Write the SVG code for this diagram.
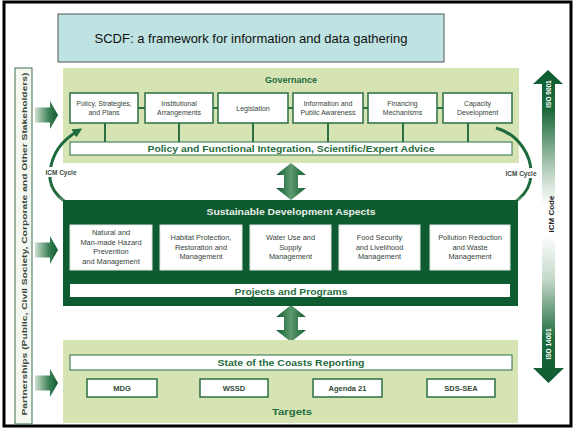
<svg xmlns="http://www.w3.org/2000/svg" width="574" height="429" viewBox="0 0 574 429">
<defs>
<style>
.panel{fill:#d6e4b4}
.dark{fill:#0f5b31}
.box{fill:#fff;stroke:#2d6e42;stroke-width:1.5}
.sbox{fill:#fff;stroke:#dfe8df;stroke-width:1}
.bar{fill:#fff;stroke:#2d6e42;stroke-width:1}
.lnk{stroke:#2d6e42;stroke-width:2;fill:none}
.slnk{stroke:#c9d9c9;stroke-width:2;fill:none}
.t{font-family:"Liberation Sans",Arial,sans-serif;font-size:7px;fill:#34443a;text-anchor:middle}
.st{font-family:"Liberation Sans",Arial,sans-serif;font-size:7.4px;fill:#34443a;text-anchor:middle}
.h{font-family:"Liberation Sans",Arial,sans-serif;font-weight:bold;font-size:9px;fill:#1f6b3c;text-anchor:middle}
.tg{font-family:"Liberation Sans",Arial,sans-serif;font-weight:bold;font-size:7.5px;fill:#2f4a37;text-anchor:middle}
.lbl{font-family:"Liberation Sans",Arial,sans-serif;font-weight:bold;font-size:6.5px;fill:#3b4a3f;text-anchor:middle}
</style>
<linearGradient id="dbl" x1="0" y1="0" x2="1" y2="0">
<stop offset="0" stop-color="#0f5b31"/><stop offset="0.5" stop-color="#5e9a6e"/><stop offset="1" stop-color="#0f5b31"/>
</linearGradient>
<linearGradient id="lar" x1="0" y1="0" x2="1" y2="0">
<stop offset="0" stop-color="#cfe0d2"/><stop offset="0.6" stop-color="#3c8256"/><stop offset="1" stop-color="#0f5b31"/>
</linearGradient>
<linearGradient id="up" gradientUnits="userSpaceOnUse" x1="0" y1="70" x2="0" y2="205">
<stop offset="0" stop-color="#0f5b31"/><stop offset="0.3" stop-color="#1d6a3c"/><stop offset="0.75" stop-color="#b9d1bf"/><stop offset="1" stop-color="#ffffff"/>
</linearGradient>
<linearGradient id="down" gradientUnits="userSpaceOnUse" x1="0" y1="235" x2="0" y2="383">
<stop offset="0" stop-color="#ffffff"/><stop offset="0.3" stop-color="#c4d8c9"/><stop offset="0.7" stop-color="#1d6a3c"/><stop offset="1" stop-color="#0f5b31"/>
</linearGradient>
<linearGradient id="arcR" gradientUnits="userSpaceOnUse" x1="0" y1="195" x2="0" y2="214">
<stop offset="0" stop-color="#1d6a3c"/><stop offset="1" stop-color="#f0f4f0"/>
</linearGradient>
<linearGradient id="arcL" gradientUnits="userSpaceOnUse" x1="0" y1="214" x2="0" y2="195">
<stop offset="0" stop-color="#e8efe8"/><stop offset="1" stop-color="#1d6a3c"/>
</linearGradient>
<marker id="mG" viewBox="0 0 10 10" refX="5" refY="5" markerWidth="3.2" markerHeight="3.2" orient="auto" markerUnits="strokeWidth">
<path d="M0,0 L10,5 L0,10 z" fill="#1d6a3c"/>
</marker>
<marker id="mW" viewBox="0 0 10 10" refX="5" refY="5" markerWidth="3.2" markerHeight="3.2" orient="auto" markerUnits="strokeWidth">
<path d="M0,0 L10,5 L0,10 z" fill="#f0f4f0"/>
</marker>
</defs>

<rect x="0" y="0" width="574" height="429" fill="#fff"/>
<rect x="4" y="2" width="567" height="424" fill="none" stroke="#000" stroke-width="3"/>

<g id="title">
<rect x="58" y="14" width="386" height="48" fill="#bfe2e2" stroke="#555" stroke-width="1"/>
<text x="251" y="43" font-family="Liberation Sans, Arial, sans-serif" font-size="13" fill="#111" text-anchor="middle">SCDF: a framework for information and data gathering</text>
</g>

<g id="partnerships">
<rect x="15" y="68" width="17" height="356" fill="#f5f8f0" stroke="#3f6f4c" stroke-width="1"/>
<text transform="translate(26.5,244) rotate(-90)" font-family="Liberation Sans, Arial, sans-serif" font-weight="bold" font-size="7.6" fill="#3b4a3f" text-anchor="middle" textLength="343" lengthAdjust="spacingAndGlyphs">Partnerships (Public, Civil Society, Corporate and Other Stakeholders)</text>
</g>

<g id="left-arrows">
<path d="M35,107.5 H50 V101 L58,115 L50,129 V122.5 H35 Z" fill="url(#lar)"/>
<path d="M35,242.5 H50 V236 L58,250 L50,264 V257.5 H35 Z" fill="url(#lar)"/>
<path d="M35,375.5 H50 V369 L58,383 L50,397 V390.5 H35 Z" fill="url(#lar)"/>
</g>

<g id="governance">
<rect class="panel" x="63" y="68" width="456" height="95"/>
<text class="h" x="291" y="83" font-size="8.5">Governance</text>
</g>

<g id="connectors">
<path class="lnk" d="M138,108 H145 M213,108 H218 M288,108 H293 M363,108 H368 M437,108 H443"/>
<path class="lnk" d="M105,123 V142 M179,123 V142 M253,123 V142 M328,123 V142 M403,123 V142 M468,123 V142"/>
<path class="slnk" d="M152,248 H160 M242,248 H250 M331,248 H339 M420,248 H430"/>
<path class="lnk" d="M157,388 H200 M268,388 H313 M382,388 H427"/>
<path d="M92,213 C62,206 48,190 50,172 C52,152 64,139 78,131" fill="none" stroke="url(#arcL)" stroke-width="3" marker-end="url(#mG)"/>
<path d="M496,128 C518,134 532,155 531,175 C530,195 512,208 490,211" fill="none" stroke="url(#arcR)" stroke-width="3" marker-end="url(#mW)"/>
</g>

<g id="gov-boxes">
<g id="g-policy"><rect class="box" x="70" y="93" width="68" height="30"/><text class="t" x="104" y="106">Policy, Strategies,</text><text class="t" x="104" y="115">and Plans</text></g>
<g id="g-inst"><rect class="box" x="145" y="93" width="68" height="30"/><text class="t" x="179" y="106">Institutional</text><text class="t" x="179" y="115">Arrangements</text></g>
<g id="g-leg"><rect class="box" x="218" y="93" width="70" height="30"/><text class="t" x="253" y="111">Legislation</text></g>
<g id="g-info"><rect class="box" x="293" y="93" width="70" height="30"/><text class="t" x="328" y="106">Information and</text><text class="t" x="328" y="115">Public Awareness</text></g>
<g id="g-fin"><rect class="box" x="368" y="93" width="69" height="30"/><text class="t" x="402.5" y="106">Financing</text><text class="t" x="402.5" y="115">Mechanisms</text></g>
<g id="g-cap"><rect class="box" x="443" y="93" width="69" height="30"/><text class="t" x="477.5" y="106">Capacity</text><text class="t" x="477.5" y="115">Development</text></g>
<g id="g-bar"><rect class="bar" x="70" y="142" width="442" height="13"/><text class="h" x="291" y="152" textLength="287" lengthAdjust="spacingAndGlyphs">Policy and Functional Integration, Scientific/Expert Advice</text></g>
</g>

<g id="icm-labels">
<rect x="42" y="167" width="38" height="10" fill="#fff"/>
<text class="lbl" x="61" y="175">ICM Cycle</text>
<rect x="502" y="168" width="38" height="10" fill="#fff"/>
<text class="lbl" x="521" y="176">ICM Cycle</text>
</g>

<g id="double-arrows">
<path d="M291,163 L306,175 H298 V188 H306 L291,200 L276,188 H284 V175 H276 Z" fill="url(#dbl)"/>
<path d="M291,305 L306,317 H298 V330 H306 L291,342 L276,330 H284 V317 H276 Z" fill="url(#dbl)"/>
</g>

<g id="sda">
<rect class="dark" x="63" y="200" width="455" height="106"/>
<text class="h" x="291" y="215" style="fill:#e9f0e9" textLength="169" lengthAdjust="spacingAndGlyphs">Sustainable Development Aspects</text>
<g id="s-hazard"><rect class="sbox" x="70" y="225" width="82" height="45"/><text class="st" x="111" y="235">Natural and</text><text class="st" x="111" y="244.5">Man-made Hazard</text><text class="st" x="111" y="254">Prevention</text><text class="st" x="111" y="263.5">and Management</text></g>
<g id="s-habitat"><rect class="sbox" x="160" y="225" width="82" height="45"/><text class="st" x="201" y="240">Habitat Protection,</text><text class="st" x="201" y="249.5">Restoration and</text><text class="st" x="201" y="259">Management</text></g>
<g id="s-water"><rect class="sbox" x="250" y="225" width="81" height="45"/><text class="st" x="290.5" y="240">Water Use and</text><text class="st" x="290.5" y="249.5">Supply</text><text class="st" x="290.5" y="259">Management</text></g>
<g id="s-food"><rect class="sbox" x="339" y="225" width="81" height="45"/><text class="st" x="379.5" y="240">Food Security</text><text class="st" x="379.5" y="249.5">and Livelihood</text><text class="st" x="379.5" y="259">Management</text></g>
<g id="s-pollution"><rect class="sbox" x="430" y="225" width="80" height="45"/><text class="st" x="470" y="240">Pollution Reduction</text><text class="st" x="470" y="249.5">and Waste</text><text class="st" x="470" y="259">Management</text></g>
<g id="s-projects"><rect x="70" y="284" width="440" height="13" fill="#fff"/><text class="h" x="291" y="295" textLength="113" lengthAdjust="spacingAndGlyphs">Projects and Programs</text></g>
</g>

<g id="targets">
<rect class="panel" x="63" y="340" width="455" height="83"/>
<g id="t-soc"><rect class="bar" x="70" y="355" width="442" height="15"/><text class="h" x="291" y="365.5" textLength="147" lengthAdjust="spacingAndGlyphs">State of the Coasts Reporting</text></g>
<g id="t-mdg"><rect class="box" x="87" y="379" width="70" height="18"/><text class="tg" x="122" y="391">MDG</text></g>
<g id="t-wssd"><rect class="box" x="200" y="379" width="68" height="18"/><text class="tg" x="234" y="391">WSSD</text></g>
<g id="t-agenda"><rect class="box" x="313" y="379" width="69" height="18"/><text class="tg" x="347.5" y="391">Agenda 21</text></g>
<g id="t-sds"><rect class="box" x="427" y="379" width="68" height="18"/><text class="tg" x="461" y="391">SDS-SEA</text></g>
<text class="h" x="292" y="415" textLength="40" lengthAdjust="spacingAndGlyphs">Targets</text>
</g>

<g id="icm-code">
<path d="M548,70 L563,84 H555 V205 H542 V84 H533 Z" fill="url(#up)"/>
<text transform="translate(551,94) rotate(-90)" font-family="Liberation Sans, Arial, sans-serif" font-weight="bold" font-size="6.5" fill="#fff" text-anchor="middle">ISO 9001</text>
<text transform="translate(554,214) rotate(-90)" font-family="Liberation Sans, Arial, sans-serif" font-weight="bold" font-size="8" fill="#222" text-anchor="middle">ICM Code</text>
<path d="M542,235 H555 V368 H564 L548.5,383 L533,368 H542 Z" fill="url(#down)"/>
<text transform="translate(551,344) rotate(-90)" font-family="Liberation Sans, Arial, sans-serif" font-weight="bold" font-size="6.5" fill="#fff" text-anchor="middle">ISO 14001</text>
</g>
</svg>
